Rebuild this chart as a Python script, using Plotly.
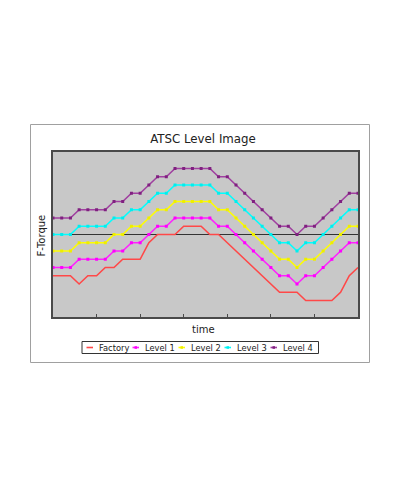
import plotly.graph_objects as go

time = [0, 1, 2, 3, 4, 5, 6, 7, 8, 9, 10, 11, 12, 13, 14, 15, 16, 17,
        18, 19, 20, 21, 22, 23, 24, 25, 26, 27, 28, 29, 30, 31, 32, 33, 34, 35]

factory = [-2.5, -2.5, -2.5, -3, -2.5, -2.5, -2, -2, -1.5, -1.5, -1.5, -0.5, 0, 0, 0,
           0.5, 0.5, 0.5, 0, 0, -0.5, -1, -1.5, -2, -2.5, -3, -3.5, -3.5, -3.5,
           -4, -4, -4, -4, -3.5, -2.5, -2]
level1 = [-2, -2, -2, -1.5, -1.5, -1.5, -1.5, -1, -1, -0.5, -0.5, 0, 0.5, 0.5, 1,
          1, 1, 1, 1, 0.5, 0.5, 0, -0.5, -1, -1.5, -2, -2.5, -2.5, -3, -2.5, -2.5,
          -2, -1.5, -1, -0.5, -0.5]
level2 = [-1, -1, -1, -0.5, -0.5, -0.5, -0.5, 0, 0, 0.5, 0.5, 1, 1.5, 1.5, 2,
          2, 2, 2, 2, 1.5, 1.5, 1, 0.5, 0, -0.5, -1, -1.5, -1.5, -2, -1.5, -1.5,
          -1, -0.5, 0, 0.5, 0.5]
level3 = [0, 0, 0, 0.5, 0.5, 0.5, 0.5, 1, 1, 1.5, 1.5, 2, 2.5, 2.5, 3,
          3, 3, 3, 3, 2.5, 2.5, 2, 1.5, 1, 0.5, 0, -0.5, -0.5, -1, -0.5, -0.5,
          0, 0.5, 1, 1.5, 1.5]
level4 = [1, 1, 1, 1.5, 1.5, 1.5, 1.5, 2, 2, 2.5, 2.5, 3, 3.5, 3.5, 4,
          4, 4, 4, 4, 3.5, 3.5, 3, 2.5, 2, 1.5, 1, 0.5, 0.5, 0, 0.5, 0.5,
          1, 1.5, 2, 2.5, 2.5]

names = ["Factory", "Level 1", "Level 2", "Level 3", "Level 4"]
series = [factory, level1, level2, level3, level4]
line_colors = ["#FF4848", "#FF22FF", "#FFFF00", "#00FFFF", "#A040A0"]
marker_colors = [None, "#FF00FF", "#EEEE00", "#00EEEE", "#802080"]
x_ticks = [5, 10, 15, 20, 25, 30]

FONT = "DejaVu Sans"
OFF = 8  # page body margin
W, H = 400 - OFF, 489 - OFF
L, R, T, B = 53, 358, 152, 317  # plot area in window px
PW, PH = R - L, B - T


def px_x(v):
    return (v - L) / PW


def px_y(v):
    return (B - v) / PH


fig = go.Figure()
for name, ys, lc, mc in zip(names, series, line_colors, marker_colors):
    if mc is None:
        fig.add_trace(go.Scatter(x=time, y=ys, name=name, mode="lines",
                                 line=dict(color=lc, width=1.6)))
    else:
        fig.add_trace(go.Scatter(x=time, y=ys, name=name, mode="lines+markers",
                                 line=dict(color=lc, width=1.6),
                                 marker=dict(color=mc, size=3, symbol="square",
                                             line=dict(width=0))))

shapes = []
annotations = []
# outer frame
shapes.append(dict(type="rect", xref="paper", yref="paper",
                   x0=px_x(30.5), x1=px_x(369.5), y0=px_y(362.5), y1=px_y(124.5),
                   line=dict(color="#A0A0A0", width=1), fillcolor="rgba(0,0,0,0)"))
# legend box
shapes.append(dict(type="rect", xref="paper", yref="paper",
                   x0=px_x(82), x1=px_x(318.5), y0=px_y(353.5), y1=px_y(341.5),
                   line=dict(color="#333333", width=1), fillcolor="white"))
ly = px_y(347.5)
for k, (name, lc, mc) in enumerate(zip(names, line_colors, marker_colors)):
    sx = 86.5 + 46 * k
    shapes.append(dict(type="line", xref="paper", yref="paper",
                       x0=px_x(sx), x1=px_x(sx + 6.5), y0=ly, y1=ly,
                       line=dict(color=lc, width=1.6)))
    if mc is not None:
        shapes.append(dict(type="rect", xref="paper", yref="paper",
                           x0=px_x(sx + 2), x1=px_x(sx + 4.5),
                           y0=px_y(348.8), y1=px_y(346.2),
                           line=dict(width=0), fillcolor=mc))
    annotations.append(dict(text=name, xref="paper", yref="paper",
                            x=px_x(sx + 10), y=ly, xanchor="left", yanchor="middle",
                            showarrow=False, font=dict(family=FONT, size=8.3, color="#222")))

# axis titles
annotations.append(dict(text="time", xref="paper", yref="paper",
                        x=px_x(203), y=px_y(329), xanchor="center", yanchor="middle",
                        showarrow=False, font=dict(family=FONT, size=10, color="#222")))
annotations.append(dict(text="F-Torque", xref="paper", yref="paper", textangle=-90,
                        x=px_x(41), y=px_y(235.5), xanchor="center", yanchor="middle",
                        showarrow=False, font=dict(family=FONT, size=10, color="#222")))

fig.update_layout(
    width=W, height=H,
    margin=dict(l=L - OFF, r=400 - R, t=T - OFF, b=489 - B, pad=0),
    paper_bgcolor="white", plot_bgcolor="#C8C8C8",
    showlegend=False,
    title=dict(text="ATSC Level Image", xref="paper", x=px_x(203), xanchor="center",
               yref="container", y=1 - (138.5 - OFF) / H, yanchor="middle",
               font=dict(family=FONT, size=11.8, color="#222")),
    xaxis=dict(range=[0, 35], showgrid=False, zeroline=False,
               showline=True, mirror=True, linecolor="#4A4A4A", linewidth=1.5,
               ticks="inside", tickvals=x_ticks, ticklen=3, tickcolor="#4A4A4A",
               showticklabels=False, fixedrange=True),
    yaxis=dict(range=[-5, 5], showgrid=False, zeroline=True,
               zerolinecolor="#333333", zerolinewidth=1,
               showline=True, mirror=True, linecolor="#4A4A4A", linewidth=1.5,
               ticks="", showticklabels=False, fixedrange=True),
    shapes=shapes, annotations=annotations,
)

fig.write_html("out.html")
